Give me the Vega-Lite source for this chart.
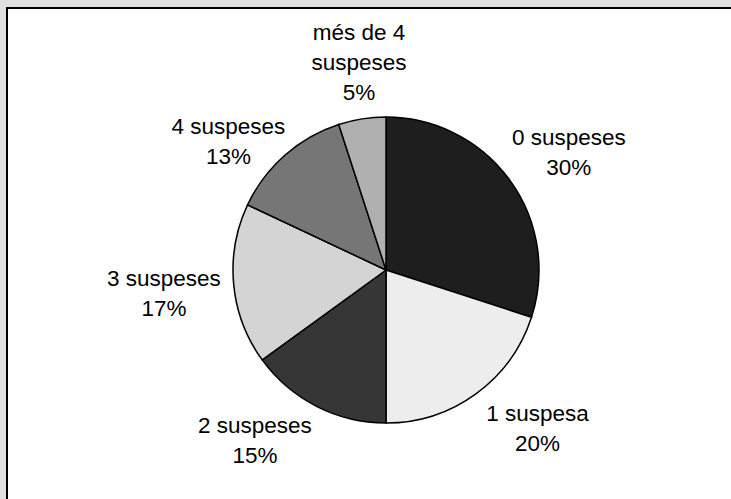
{
  "$schema": "https://vega.github.io/schema/vega-lite/v6.json",
  "width": 758,
  "height": 524,
  "autosize": {"type": "none"},
  "padding": {"left": 7, "top": 8, "right": -34, "bottom": -33},
  "background": "#e0e0e0",
  "view": {"fill": "white", "stroke": "black", "strokeWidth": 2, "fillOpacity": 1},
  "data": {"values": [
    {"ordre": 1, "cat": "0 suspeses", "pct": 30, "etiqueta": "0 suspeses\n30%"},
    {"ordre": 2, "cat": "1 suspesa", "pct": 20, "etiqueta": "1 suspesa\n20%"},
    {"ordre": 3, "cat": "2 suspeses", "pct": 15, "etiqueta": "2 suspeses\n15%"},
    {"ordre": 4, "cat": "3 suspeses", "pct": 17, "etiqueta": "3 suspeses\n17%"},
    {"ordre": 5, "cat": "4 suspeses", "pct": 13, "etiqueta": "4 suspeses\n13%"},
    {"ordre": 6, "cat": "més de 4 suspeses", "pct": 5, "etiqueta": "més de 4\nsuspeses\n5%"}
  ]},
  "encoding": {
    "theta": {"field": "pct", "type": "quantitative", "stack": true},
    "order": {"field": "ordre", "type": "quantitative"}
  },
  "layer": [
    {
      "mark": {"type": "arc", "outerRadius": 153, "stroke": "black", "strokeWidth": 1.5},
      "encoding": {
        "color": {
          "field": "cat", "type": "nominal", "legend": null,
          "scale": {
            "domain": ["0 suspeses", "1 suspesa", "2 suspeses", "3 suspeses", "4 suspeses", "més de 4 suspeses"],
            "range": ["#1e1e1e", "#ededed", "#363636", "#d4d4d4", "#767676", "#b0b0b0"]
          }
        }
      }
    },
    {
      "mark": {
        "type": "text", "radius": 205, "font": "Liberation Sans", "fontSize": 22.5,
        "lineBreak": "\n", "lineHeight": 30, "align": "center", "baseline": "middle", "fill": "black",
        "dx": {"expr": "datum.cat=='0 suspeses'?17:datum.cat=='1 suspesa'?31:datum.cat=='2 suspeses'?-38:datum.cat=='3 suspeses'?-18:datum.cat=='4 suspeses'?-22:5"},
        "dy": {"expr": "datum.cat=='0 suspeses'?-12:datum.cat=='1 suspesa'?-22:datum.cat=='2 suspeses'?-27:datum.cat=='3 suspeses'?-10:datum.cat=='4 suspeses'?11:-35"}
      },
      "encoding": {"text": {"field": "etiqueta", "type": "nominal"}}
    }
  ]
}
